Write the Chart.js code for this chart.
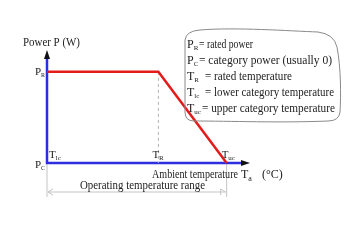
<!DOCTYPE html>
<html>
<head>
<meta charset="utf-8">
<script src="https://cdn.jsdelivr.net/npm/chart.js@4/dist/chart.umd.min.js"></script>
<style>
html, body { margin: 0; padding: 0; background: #fff; }
#wrap { width: 350px; height: 250px; position: relative; }
</style>
</head>
<body>
<div id="wrap"><canvas id="derating"></canvas></div>
<script>
// derating curve, arbitrary units
const tempNames   = ['lc', 'R', 'uc'];     // T_lc, T_R, T_uc
const tempValues  = [0, 62, 100];
const powerValues = [100, 100, 0];         // P_R, P_R, P_C
const powerNames  = ['R', 'C'];
const powerTicks  = [100, 0];
const axisEnds    = [113, 124];            // x arrow tip, y arrow tip

const legendLines = [
    ['P', 'R',  '= rated power'],
    ['P', 'C',  '= category power (usually 0)'],
    ['T', 'R',  '= rated temperature'],
    ['T', 'lc', '= lower category temperature'],
    ['T', 'uc', '= upper category temperature']
];

const SERIF = '"Liberation Serif", "DejaVu Serif", serif';
const BLUE = '#2e2ee0';
const RED = '#e41b1b';
const GREY = '#9a9a9a';

// draw "X" with a subscript, returns the x where it ends
function subText(ctx, base, sub, x, y, size, subSize) {
    ctx.font = size + 'px ' + SERIF;
    ctx.fillText(base, x, y);
    const w = ctx.measureText(base).width;
    ctx.font = (subSize || size * 0.6) + 'px ' + SERIF;
    ctx.fillText(sub, x + w, y + size * 0.3);
    return x + w + ctx.measureText(sub).width;
}

function arrowHead(ctx, x, y, dir, len, half, filled) {
    ctx.beginPath();
    if (dir === 'up') { ctx.moveTo(x, y); ctx.lineTo(x - half, y + len); ctx.lineTo(x + half, y + len); }
    if (dir === 'right') { ctx.moveTo(x, y); ctx.lineTo(x - len, y - half); ctx.lineTo(x - len, y + half); }
    if (dir === 'left') { ctx.moveTo(x + len, y - half); ctx.lineTo(x, y); ctx.lineTo(x + len, y + half); }
    if (filled) { ctx.closePath(); ctx.fill(); } else { ctx.stroke(); }
}

const sketchPlugin = {
    id: 'sketch',
    beforeDatasetsDraw(chart) {
        const { ctx, scales: { x, y } } = chart;
        const x0 = x.getPixelForValue(0), y0 = y.getPixelForValue(0);
        const xEnd = x.getPixelForValue(axisEnds[0]);
        const yEnd = y.getPixelForValue(axisEnds[1]);
        ctx.save();
        // operating range guides
        const xr = x.getPixelForValue(tempValues[2]);
        ctx.strokeStyle = '#c4c4c4';
        ctx.lineWidth = 1;
        ctx.beginPath();
        ctx.moveTo(x0, y0); ctx.lineTo(x0, y0 + 34);
        ctx.moveTo(xr, y0); ctx.lineTo(xr, y0 + 34);
        ctx.moveTo(x0 + 1, y0 + 29); ctx.lineTo(xr - 1, y0 + 29);
        ctx.stroke();
        arrowHead(ctx, x0 + 1, y0 + 29, 'left', 5, 3, false);
        arrowHead(ctx, xr - 1, y0 + 29, 'right', 5, 3, false);

        // axes
        ctx.strokeStyle = BLUE;
        ctx.lineWidth = 2.5;
        ctx.beginPath();
        ctx.moveTo(x0, yEnd + 7); ctx.lineTo(x0, y0); ctx.lineTo(xEnd - 7, y0);
        ctx.stroke();
        ctx.fillStyle = '#111';
        arrowHead(ctx, x0, yEnd, 'up', 9, 3, true);
        arrowHead(ctx, xEnd, y0, 'right', 9, 3, true);
        ctx.restore();
    },
    afterDatasetsDraw(chart) {
        const { ctx, scales: { x, y } } = chart;
        const x0 = x.getPixelForValue(0), y0 = y.getPixelForValue(0);
        ctx.save();
        ctx.fillStyle = '#222';
        ctx.textBaseline = 'middle';

        // axis titles
        ctx.font = '12px ' + SERIF;
        ctx.fillText('Power P (W)', x0 - 24, y.getPixelForValue(axisEnds[1]) - 7, 57);
        ctx.fillText('Ambient temperature', x0 + 105, y0 + 12, 86);
        subText(ctx, 'T', 'a', x0 + 194, y0 + 12, 12, 8);
        ctx.font = '12px ' + SERIF;
        ctx.fillText('(\u00b0C)', x0 + 215, y0 + 12, 23);
        ctx.font = '12px ' + SERIF;
        ctx.fillText('Operating temperature range', x0 + 33, y0 + 23, 125);

        // power ticks
        powerTicks.forEach((v, i) => {
            const py = y.getPixelForValue(v);
            subText(ctx, 'P', powerNames[i], x0 - 12, py + (i ? 2 : 0), 11, 6);
        });
        // temperature ticks
        tempValues.forEach((v, i) => {
            const px = x.getPixelForValue(v);
            const off = [2, -6, -5][i];
            subText(ctx, 'T', tempNames[i], px + off, y0 - 8, 11, 7);
        });

        // legend box
        ctx.strokeStyle = '#8a8a8a';
        ctx.lineWidth = 1;
        ctx.beginPath();
        ctx.moveTo(185, 40);
        ctx.quadraticCurveTo(186, 31, 200, 30);
        ctx.bezierCurveTo(235, 27, 290, 31, 318, 32);
        ctx.quadraticCurveTo(334, 34, 337, 47);
        ctx.bezierCurveTo(341, 68, 341, 95, 340, 112);
        ctx.quadraticCurveTo(339, 121, 328, 121);
        ctx.bezierCurveTo(280, 123, 230, 121, 194, 121);
        ctx.quadraticCurveTo(185, 121, 185, 112);
        ctx.closePath();
        ctx.stroke();

        const eqX = [199, 199, 205, 205, 202];
        const ends = [253, 332, 292, 334, 335];
        legendLines.forEach((line, i) => {
            const ly = 45 + i * 16;
            subText(ctx, line[0], line[1], 187, ly, 12, 7);
            ctx.font = '12px ' + SERIF;
            ctx.fillText(line[2], eqX[i], ly, ends[i] - eqX[i]);
        });
        ctx.restore();
    }
};

new Chart(document.getElementById('derating'), {
    type: 'scatter',
    data: {
        datasets: [
            {
                data: tempValues.map((t, i) => ({ x: t, y: powerValues[i] })),
                showLine: true,
                borderColor: RED,
                borderWidth: 2.5,
                pointRadius: 0,
                clip: false
            },
            {
                data: [{ x: tempValues[1], y: powerValues[1] }, { x: tempValues[1], y: 0 }],
                showLine: true,
                borderColor: '#b0b0b0',
                borderWidth: 1,
                borderDash: [3, 3],
                pointRadius: 0
            }
        ]
    },
    options: {
        responsive: true,
        maintainAspectRatio: false,
        animation: false,
        layout: { padding: { left: 47, right: 100, top: 50, bottom: 87 } },
        plugins: { legend: { display: false }, tooltip: { enabled: false } },
        scales: {
            x: { type: 'linear', min: 0, max: axisEnds[0], display: false },
            y: { type: 'linear', min: 0, max: axisEnds[1], display: false }
        }
    },
    plugins: [sketchPlugin]
});
</script>
</body>
</html>
